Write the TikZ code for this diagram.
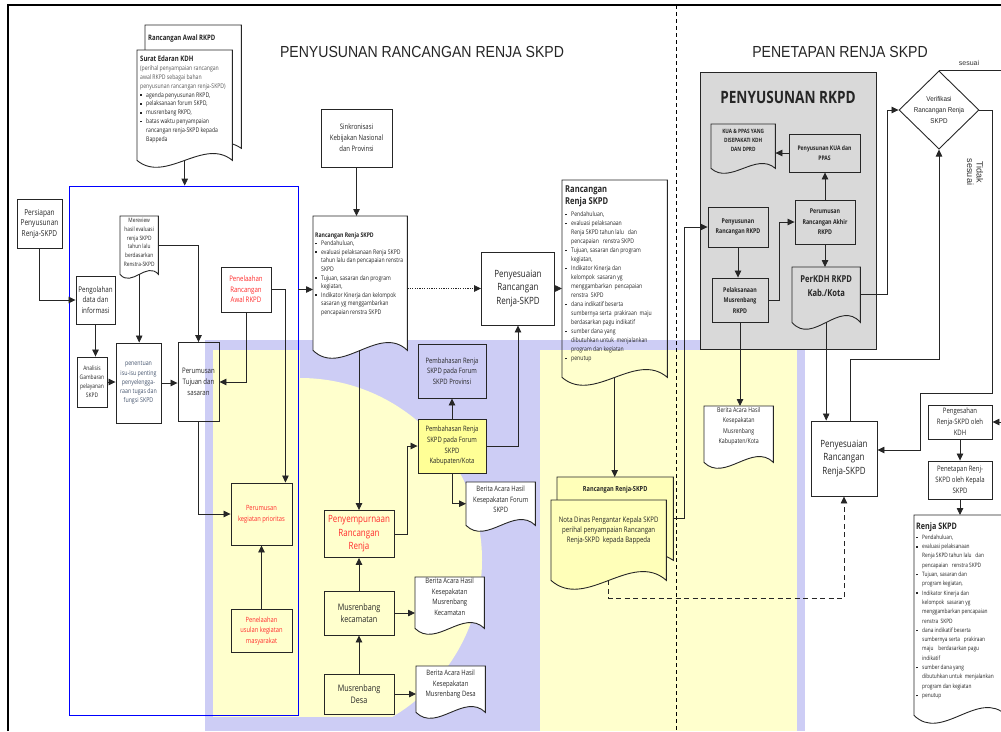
\documentclass[tikz,border=0pt]{standalone}
\usepackage{fontspec}
\setmainfont[FakeStretch=0.8]{Open Sans}
\newfontfamily\arialfont[FakeStretch=0.9]{Liberation Sans}
\newfontfamily\labelfont{Liberation Sans}
\newfontfamily\titlefont[FakeStretch=0.88]{Liberation Sans}
\usetikzlibrary{arrows.meta,calc,shapes.geometric}

\definecolor{wmblue}{RGB}{205,205,245}
\definecolor{wmyel}{RGB}{255,255,205}
\definecolor{kabyel}{RGB}{255,255,150}
\definecolor{docyel}{RGB}{255,255,185}
\definecolor{rkpdgray}{RGB}{217,217,217}
\definecolor{redtxt}{RGB}{255,45,45}
\definecolor{slatetxt}{RGB}{70,85,110}

\pgfdeclarelayer{wm}
\pgfdeclarelayer{docs}
\pgfsetlayers{wm,docs,main}

\newcommand\fsz[2]{\fontsize{#1}{#2}\selectfont}
% text block of a document shape: width, height, top gap, content
\newcommand\dtext[4]{\parbox[c][#2][t]{#1}{\vspace*{#3}#4}}
\newcommand\bitem{\par\hangindent=6pt\hangafter=1\noindent\makebox[6pt][l]{\rule[.35ex]{1.6pt}{1.6pt}}}
% outline with wavy bottom round a named node: [fill]{node}{amplitude}
\newcommand\docshape[3][white]{%
  \begin{pgfonlayer}{docs}
    \filldraw[docedge, fill=#1] (#2.north west) -- (#2.north east) -- (#2.south east)
      .. controls ($(#2.south east)!.3!(#2.south west)+(0,-3.4*#3)$)
      and ($(#2.south east)!.7!(#2.south west)+(0,3.4*#3)$) .. (#2.south west) -- cycle;
  \end{pgfonlayer}}

\tikzset{
  box/.style={draw=black!85, line width=.9pt, align=center, inner sep=1pt, text=black!85},
  docedge/.style={draw=black!85, line width=.9pt},
  docnode/.style={inner sep=0pt, text=black!85, anchor=north west},
  arr/.style={draw=black!85, line width=.8pt, -{Triangle[length=7pt,width=6.5pt]}},
  link/.style={draw=black!85, line width=.8pt},
}

\begin{document}
\begin{tikzpicture}[x=1pt,y=-1pt]
  \useasboundingbox (0,0) rectangle (1001,731);

  % watermark
  \begin{pgfonlayer}{wm}
    \fill[wmblue] (205,340) rectangle (805,731);
    \begin{scope}
      \clip (213,350) rectangle (797,716);
      \fill[wmyel] (300,560) circle (182pt);
      \fill[wmyel] (213,350) rectangle (300,716);
    \end{scope}
    \fill[wmyel] (540,350) rectangle (797,731);
    \node[fill=rkpdgray, draw=black!85, line width=.9pt, minimum width=176, minimum height=277] (rkpd) at (788,210.5) {};
  \end{pgfonlayer}

  \draw[line width=2pt] (8,731) -- (8,5) -- (1001,5);
  \draw[dash pattern=on 4pt off 3pt, line width=.6pt] (676,5) -- (676,731);

  \node[font=\titlefont\fsz{16}{18}, text=black!85] (ttlA) at (422,52) {PENYUSUNAN RANCANGAN RENJA SKPD};
  \node[font=\titlefont\fsz{16}{18}, text=black!85] (ttlB) at (840,52) {PENETAPAN RENJA SKPD};

  \node[draw=blue, line width=.8pt, minimum width=229, minimum height=529] (grp) at (183.5,450.5) {};

  % left column
  \node[docnode] (awalB) at (145,25) {\dtext{96pt}{123pt}{10pt}{\raggedright\leftskip=3pt\fsz{7.5}{8.5}\bfseries Rancangan Awal RKPD}};
  \docshape{awalB}{6}
  \node[docnode] (awalF) at (137,50) {\dtext{95pt}{110pt}{6pt}{\raggedright\leftskip=3pt\fsz{6.4}{8.8}%
    {\bfseries\fsz{7.5}{9}Surat Edaran KDH}\par
    {\color{black!65}(perihal penyampaian rancangan\newline awal RKPD sebagai bahan\newline penyusunan rancangan renja-SKPD)}
    \bitem agenda penyusunan RKPD,
    \bitem pelaksanaan forum SKPD,
    \bitem musrenbang RKPD,
    \bitem batas waktu penyampaian\newline rancangan renja-SKPD kepada\newline Bappeda}};
  \docshape{awalF}{7}

  \node[box, minimum width=45, minimum height=49, font=\fsz{8.2}{10.5}] (persiapan) at (39.5,223.5) {Persiapan\\ Penyusunan\\ Renja-SKPD};
  \node[box, minimum width=39, minimum height=48, font=\fsz{7.8}{10.5}] (olah) at (95.5,300) {Pengolahan\\ data dan\\ informasi};
  \node[box, minimum width=30, minimum height=50, font=\fsz{6.2}{9}] (analisis) at (92,382) {Analisis\\ Gambaran\\ pelayanan\\ SKPD};
  \node[docnode] (review) at (120,216) {\dtext{38pt}{58pt}{2pt}{\centering\fsz{6}{8.7}Mereview\\ hasil evaluasi\\ renja SKPD\\ tahun lalu\\ berdasarkan\\ Renstra-SKPD}};
  \docshape{review}{4}
  \node[box, minimum width=45, minimum height=80, font=\fsz{6.6}{9.3}, text=slatetxt] (isu) at (138.5,383) {penentuan\\ isu-isu penting\\ penyelengga-\\ raan tugas dan\\ fungsi SKPD};
  \node[box, minimum width=41, minimum height=79, font=\fsz{7.6}{10.7}] (tujuan) at (198.5,382) {Perumusan\\ Tujuan dan\\ sasaran};
  \node[box, minimum width=50, minimum height=45, font=\fsz{7.6}{10.5}, text=redtxt] (telaahRA) at (246,289.5) {Penelaahan\\ Rancangan\\ Awal RKPD};
  \node[box, minimum width=61, minimum height=62, font=\fsz{7.2}{10.7}, text=redtxt] (prioritas) at (261.5,514) {Perumusan\\ kegiatan prioritas};
  \node[box, minimum width=61, minimum height=43, font=\fsz{7.2}{10.5}, text=redtxt] (usulan) at (261.5,631) {Penelaahan\\ usulan kegiatan\\ masyarakat};

  % middle column
  \node[box, minimum width=71, minimum height=58, font=\fsz{7.5}{11}] (sinkron) at (356.5,138) {Sinkronisasi\\ Kebijakan Nasional\\ dan Provinsi};
  \node[docnode] (renjaA) at (313,216) {\dtext{94pt}{134pt}{16pt}{\raggedright\leftskip=2pt\fsz{6.4}{8.6}%
    {\bfseries Rancangan Renja SKPD}
    \bitem Pendahuluan,
    \bitem evaluasi pelaksanaan Renja SKPD\newline tahun lalu dan pencapaian renstra\newline SKPD
    \bitem Tujuan, sasaran dan program\newline kegiatan,
    \bitem Indikator Kinerja dan kelompok\newline sasaran yg menggambarkan\newline pencapaian renstra SKPD}};
  \docshape{renjaA}{8}
  \node[box, minimum width=73, minimum height=73, font=\fsz{10}{13.5}] (sesuaiA) at (518,288.5) {Penyesuaian\\ Rancangan\\ Renja-SKPD};
  \node[box, minimum width=70, minimum height=47, font=\fsz{10}{13.5}, text=redtxt] (sempurna) at (359,534) {Penyempurnaan\\ Rancangan\\ Renja};
  \node[box, minimum width=70, minimum height=44, font=\fsz{9}{12}] (muskec) at (359,613) {Musrenbang\\ kecamatan};
  \node[box, minimum width=70, minimum height=40, font=\fsz{9}{12}] (musdesa) at (359,694) {Musrenbang\\ Desa};
  \node[box, minimum width=68, minimum height=54, font=\fsz{7.4}{10.7}] (forumprov) at (452,371) {Pembahasan Renja\\ SKPD pada Forum\\ SKPD Provinsi};
  \node[box, fill=kabyel, minimum width=68, minimum height=54, font=\fsz{7.4}{10.7}] (forumkab) at (452,446) {Pembahasan Renja\\ SKPD pada Forum\\ SKPD\\ Kabupaten/Kota};
  \node[docnode] (baForum) at (466,482) {\dtext{69pt}{43pt}{4pt}{\centering\fsz{7.4}{10.5}Berita Acara Hasil\\ Kesepakatan Forum\\ SKPD}};
  \docshape{baForum}{6}
  \node[docnode] (baKec) at (415,577) {\dtext{69pt}{51pt}{1pt}{\centering\fsz{7.4}{10.5}Berita Acara Hasil\\ Kesepakatan\\ Musrenbang\\ Kecamatan}};
  \docshape{baKec}{6}
  \node[docnode] (baDesa) at (416,666) {\dtext{69pt}{46pt}{4pt}{\centering\fsz{7.4}{10.5}Berita Acara Hasil\\ Kesepakatan\\ Musrenbang Desa}};
  \docshape{baDesa}{6}

  \node[docnode] (renjaB) at (562,180) {\dtext{105pt}{197pt}{6pt}{\raggedright\leftskip=3pt%
    {\bfseries\fsz{9.5}{11.5}Rancangan\\ Renja SKPD\par}\vspace{3pt}\fsz{6.4}{9}%
    \bitem Pendahuluan,
    \bitem evaluasi pelaksanaan\newline Renja SKPD tahun lalu\ \ \ dan\newline pencapaian\ \ \ renstra\ SKPD
    \bitem Tujuan, sasaran dan program\newline kegiatan,
    \bitem Indikator Kinerja dan\newline kelompok\ \ sasaran yg\newline menggambarkan\ \ pencapaian\newline renstra\ \ SKPD
    \bitem dana indikatif beserta\newline sumbernya serta\ \ prakiraan\ \ maju\newline berdasarkan pagu indikatif
    \bitem sumber dana yang\newline dibutuhkan untuk\ \ menjalankan\newline program dan kegiatan
    \bitem penutup}};
  \docshape[none]{renjaB}{8}
  \node[docnode] (stackB) at (557,477) {\dtext{116pt}{83pt}{9pt}{\centering\bfseries\fsz{7}{8}Rancangan Renja-SKPD}};
  \docshape[docyel]{stackB}{7}
  \node[docnode] (stackF) at (551,500) {\dtext{115pt}{80pt}{17pt}{\centering\fsz{7.6}{10}Nota Dinas Pengantar Kepala SKPD\\ perihal penyampaian Rancangan\\ Renja-SKPD\ \ kepada Bappeda}};
  \docshape[docyel]{stackF}{9}

  % right part
  \node[font=\bfseries\fsz{17}{20}, text=black!85] (rkpdTtl) at (788,97) {PENYUSUNAN RKPD};
  \node[docnode] (kuaDoc) at (711,124) {\dtext{64pt}{44pt}{5pt}{\centering\bfseries\fsz{5.9}{8.8}KUA \& PPAS YANG\\ DISEPAKATI KDH\\ DAN DPRD}};
  \docshape[none]{kuaDoc}{5}
  \node[box, minimum width=71, minimum height=38, font=\bfseries\fsz{6.3}{9.5}] (kuaBox) at (824.5,153) {Penyusunan KUA dan\\ PPAS};
  \node[box, minimum width=60, minimum height=44, font=\bfseries\fsz{6.6}{10.5}] (akhir) at (825,222) {Perumusan\\ Rancangan Akhir\\ RKPD};
  \node[box, minimum width=60, minimum height=40, font=\bfseries\fsz{6.6}{10.5}] (susunRKPD) at (738,227) {Penyusunan\\ Rancangan RKPD};
  \node[box, minimum width=56, minimum height=44, font=\bfseries\fsz{6.6}{10.5}] (musRKPD) at (740,300) {Pelaksanaan\\ Musrenbang\\ RKPD};
  \node[docnode] (perkdh) at (792,267) {\dtext{68pt}{55pt}{9pt}{\centering\bfseries\fsz{9.5}{14}PerKDH RKPD\\ Kab./Kota}};
  \docshape[none]{perkdh}{7}
  \node[docnode] (baKab) at (704,406) {\dtext{69pt}{56pt}{1pt}{\centering\fsz{6.6}{10.5}Berita Acara Hasil\\ Kesepakatan\\ Musrenbang\\ Kabupaten/Kota}};
  \docshape{baKab}{6}
  \node[box, minimum width=66, minimum height=75, font=\fsz{10}{13.5}] (sesuaiB) at (844,458.5) {Penyesuaian\\ Rancangan\\ Renja-SKPD};
  \node[draw=black!85, line width=.9pt, shape=diamond, minimum width=80, minimum height=75, inner sep=0pt, align=center, font=\arialfont\fsz{7}{11.3}, text=black!85] (verif) at (939,110) {Verifikasi\\ Rancangan Renja\\ SKPD};
  \node[box, minimum width=64, minimum height=34, font=\fsz{7.5}{11}] (sahkan) at (960,422) {Pengesahan\\ Renja-SKPD oleh\\ KDH};
  \node[box, minimum width=64, minimum height=38, font=\fsz{7.5}{11}] (tetapkan) at (960,480) {Penetapan Renj-\\ SKPD oleh Kepala\\ SKPD};
  \node[docnode] (renjaC) at (914,515) {\dtext{92pt}{200pt}{7pt}{\raggedright\leftskip=2pt%
    {\bfseries\fsz{9}{10}Renja SKPD\par}\vspace{1pt}\fsz{6}{9.3}%
    \bitem Pendahuluan,
    \bitem evaluasi pelaksanaan\newline Renja SKPD tahun lalu\ \ \ dan\newline pencapaian\ \ \ renstra SKPD
    \bitem Tujuan, sasaran dan\newline program kegiatan,
    \bitem Indikator Kinerja dan\newline kelompok\ \ sasaran yg\newline menggambarkan pencapaian\newline renstra\ \ SKPD
    \bitem dana indikatif beserta\newline sumbernya serta\ \ \ prakiraan\newline maju\ \ \ \ berdasarkan pagu\newline indikatif
    \bitem sumber dana yang\newline dibutuhkan untuk\ \ menjalankan\newline program dan kegiatan
    \bitem penutup}};
  \docshape{renjaC}{8}

  \node[font=\labelfont\fsz{7}{8}, text=black!80] (lblSesuai) at (969,63) {sesuai};
  \node[font=\labelfont\fsz{9}{9.5}, text=black!80, rotate=-90, align=center] (lblTidak) at (975,172) {Tidak\\ sesuai};

  \coordinate (rEdgeA) at (1001,72);
  \coordinate (rEdgeB) at (1001,422);
  \coordinate (tsA) at (992,393);
  \coordinate (tsB) at (920,393);

  % connectors
  \draw[arr] (awalF.south) -- (awalF.south |- grp.north);
  \draw[arr] (persiapan.south) |- (olah.west);
  \draw[arr] (olah.south) -- (olah.south |- analisis.north);
  \draw[arr] (analisis.east) -- (analisis.east -| isu.west);
  \draw[arr] (isu.east) -- (isu.east -| tujuan.west);
  \draw[arr] (review.south) -- (review.south |- isu.north);
  \draw[arr] (review.east) -| (tujuan.north);
  \draw[arr] (telaahRA.south) |- (tujuan.east);
  \draw[arr] (telaahRA.east) -| ([xshift=-7pt]prioritas.north east);
  \draw[arr] (grp.east |- telaahRA.east) -- (renjaA.west |- telaahRA.east);
  \draw[arr] (tujuan.south) |- (prioritas.west);
  \draw[arr] (usulan.north) -- (prioritas.south);
  \draw[arr] (sinkron.south) -- (sinkron.south |- renjaA.north);
  \draw[arr, dash pattern=on 1.2pt off 1.2pt] (renjaA.east |- sesuaiA.west) -- (sesuaiA.west);
  \draw[arr] (sesuaiA.east) -- (sesuaiA.east -| renjaB.west);
  \draw[arr] (sempurna.north |- renjaA.south) -- (sempurna.north);
  \draw[arr] (musdesa.north) -- (muskec.south);
  \draw[arr] (muskec.north) -- (sempurna.south);
  \draw[arr] (muskec.east) -- (muskec.east -| baKec.west);
  \draw[arr] (musdesa.east) -- (musdesa.east -| baDesa.west);
  \draw[arr] (sempurna.east) -- ++(13,0) |- (forumkab.west);
  \draw[arr] (forumkab.north) -- (forumprov.south);
  \draw[arr] (forumkab.south) |- (baForum.west);
  \draw[arr] (forumkab.east) -| (sesuaiA.south);
  \draw[arr] (renjaB.south) -- (renjaB.south |- stackB.north);
  \draw[arr] (stackB.east) -- ++(11,0) |- (susunRKPD.west);
  \draw[arr, dash pattern=on 5pt off 3.5pt] (stackF.south) -- ++(0,18) -| (sesuaiB.south);
  \draw[arr] (kuaBox.west) -- (kuaBox.west -| kuaDoc.east);
  \draw[arr] (akhir.north) -- (akhir.north |- kuaBox.south);
  \draw[arr] (susunRKPD.south) -- (susunRKPD.south |- musRKPD.north);
  \draw[arr] (musRKPD.east) -- ++(11,0) |- (akhir.west);
  \draw[arr] (akhir.south) -- (akhir.south |- perkdh.north);
  \draw[arr] (musRKPD.south) -- (musRKPD.south |- baKab.north);
  \draw[arr] (perkdh.south) -- (perkdh.south |- sesuaiB.north);
  \draw[arr] (perkdh.east) -- ++(27,0) |- (verif.west);
  \draw[arr] ([xshift=6pt]sesuaiB.north) -- ++(0,-61) -| (verif.south);
  \draw[link] (verif.north) -- (verif.north -| rEdgeA);
  \draw[arr] (verif.east) -| (tsA) -- (tsB) |- ([yshift=8.5pt]sesuaiB.east);
  \draw[arr] (rEdgeB) -- (sahkan.east);
  \draw[arr] (sahkan.south) -- (tetapkan.north);
  \draw[arr] (tetapkan.south) -- (tetapkan.south |- renjaC.north);
\end{tikzpicture}
\end{document}
